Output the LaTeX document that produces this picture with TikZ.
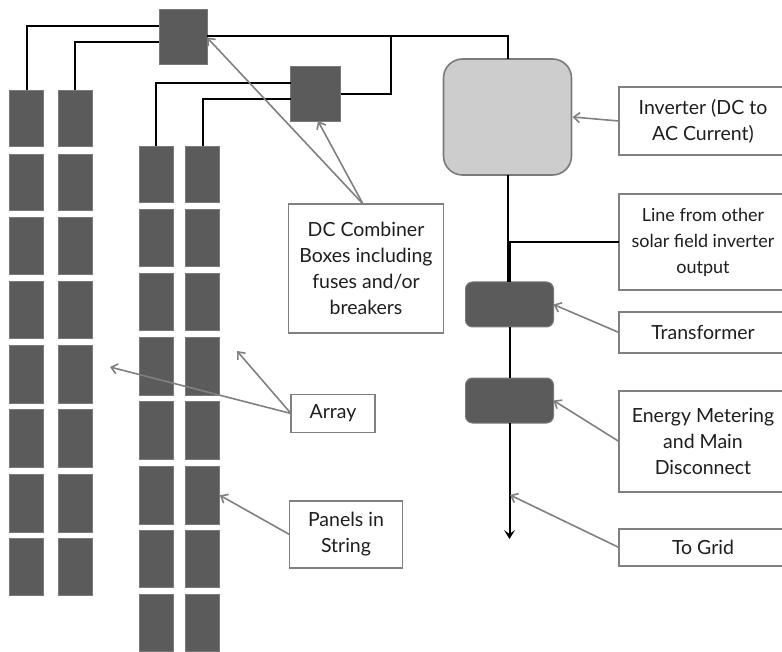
\documentclass[tikz,border=0pt]{standalone}
\usepackage{fontspec}
\setmainfont{Lato}
\usetikzlibrary{arrows.meta}
\definecolor{panelfill}{HTML}{5B5B5B}
\definecolor{panelline}{HTML}{7A7A7A}
\definecolor{calloutline}{HTML}{808080}
\definecolor{invfill}{HTML}{CDCDCD}
\definecolor{inkcol}{HTML}{1E1E1E}
\tikzset{
  panelbox/.style={draw=panelline,fill=panelfill,line width=1pt,inner sep=0pt,outer sep=0pt},
  combiner/.style={panelbox},
  roundbox/.style={panelbox,rounded corners=7pt},
  inverterbox/.style={draw=panelline,fill=invfill,line width=1.6pt,rounded corners=19pt,inner sep=0pt,outer sep=0pt},
  labelbox/.style={draw=calloutline,fill=white,line width=1.4pt,inner sep=0pt,outer sep=0pt,align=center,text=inkcol,font=\fontsize{19.5}{26}\selectfont},
  smalllabel/.style={labelbox,font=\fontsize{18}{26}\selectfont},
  wire/.style={black,line width=2pt},
  pointer/.style={draw=calloutline,line width=1.6pt,-{Straight Barb[length=6pt,width=10pt]}},
}
\begin{document}
\begin{tikzpicture}[x=1pt,y=-1pt]
\useasboundingbox (0,0) rectangle (782,652);
\clip (0,0) rectangle (782,652);
\foreach \cx/\col in {26.5/a,75/b}{
  \foreach \r/\t/\b in {1/90.5/147,2/154.5/210.5,3/217.5/275,4/282/339,5/346/403,6/409.5/467,7/474/532,8/538/595}{
    \node[panelbox,minimum width=34pt,minimum height={(\b-\t)*1pt}] (p\col\r) at (\cx,{(\t+\b)/2}) {};
  }
}
\foreach \cx/\col in {156/c,202.8/d}{
  \foreach \r/\t/\b in {1/146.5/202.5,2/209.5/267,3/274/331,4/338/395,5/401.7/459.5,6/466.5/524,7/530.5/587,8/594/651}{
    \node[panelbox,minimum width=34pt,minimum height={(\b-\t)*1pt}] (p\col\r) at (\cx,{(\t+\b)/2}) {};
  }
}
\node[combiner,minimum width=48pt,minimum height=55pt] (cb1) at (183,37.5) {};
\node[combiner,minimum width=50pt,minimum height=54.5pt] (cb2) at (315.5,93.8) {};
\node[inverterbox,minimum width=128pt,minimum height=116pt] (inv) at (507.5,117) {};
\node[roundbox,minimum width=88pt,minimum height=45pt] (trans) at (509.5,304.5) {};
\node[roundbox,minimum width=88pt,minimum height=45pt] (meter) at (509.5,400.5) {};
\coordinate (bus) at (391,36);
\coordinate (gridend) at (509.5,539);

\node[labelbox,minimum width=154.5pt,minimum height=129pt] (dc) at (366,268.5) {DC Combiner\\Boxes including\\fuses and/or\\breakers};
\node[labelbox,minimum width=168pt,minimum height=68pt] (linv) at (703,121) {Inverter (DC to\\AC Current)};
\node[smalllabel,minimum width=168pt,minimum height=96pt] (lline) at (703,242) {Line from other\\solar field inverter\\output};
\node[labelbox,minimum width=168pt,minimum height=41pt] (ltrans) at (703,332.5) {Transformer};
\node[labelbox,minimum width=168pt,minimum height=101pt] (lmeter) at (703,441.5) {Energy Metering\\and Main\\Disconnect};
\node[labelbox,minimum width=168pt,minimum height=37pt] (lgrid) at (703,547.5) {To Grid};
\node[labelbox,minimum width=84pt,minimum height=38pt] (larray) at (333,413.5) {Array};
\node[labelbox,minimum width=113pt,minimum height=67pt] (lpanels) at (346,534.5) {Panels in\\String};

\coordinate (aimA) at (110,367);
\coordinate (aimB) at (237,351);
\coordinate (aimGrid) at (510,495);

% DC wiring
\draw[wire] (pa1.north) |- ([yshift=11.5pt]cb1.west);
\draw[wire] (pb1.north) |- ([yshift=-4.5pt]cb1.west);
\draw[wire] (pc1.north) |- ([yshift=10.8pt]cb2.west);
\draw[wire] (pd1.north) |- ([yshift=-5.2pt]cb2.west);
\draw[wire] (cb1.east |- bus) -- (bus) -| (inv.north);
\draw[wire] (cb2.east) -| (bus);
% AC wiring
\draw[wire] (inv.south) -- (inv.south |- trans.north);
\draw[wire] (lline.west) -| (trans.north);
\draw[wire] (trans.south) -- (meter.north);
\draw[wire,-{Stealth[length=9pt,width=11pt,inset=4pt]}] (meter.south) -- (gridend);
% call-outs
\draw[pointer] ([xshift=-3pt]dc.north) -- (cb1.east);
\draw[pointer] ([xshift=-3pt]dc.north) -- ([xshift=2.5pt]cb2.south);
\draw[pointer] (linv.west) -- ([xshift=1pt]inv.east);
\draw[pointer] (ltrans.west) -- (trans.east);
\draw[pointer] (lmeter.west) -- (meter.east);
\draw[pointer] (lgrid.west) -- (aimGrid);
\draw[pointer] (larray.west) -- (aimA);
\draw[pointer] (larray.west) -- (aimB);
\draw[pointer] (lpanels.west) -- (pd6.east);
\end{tikzpicture}
\end{document}
